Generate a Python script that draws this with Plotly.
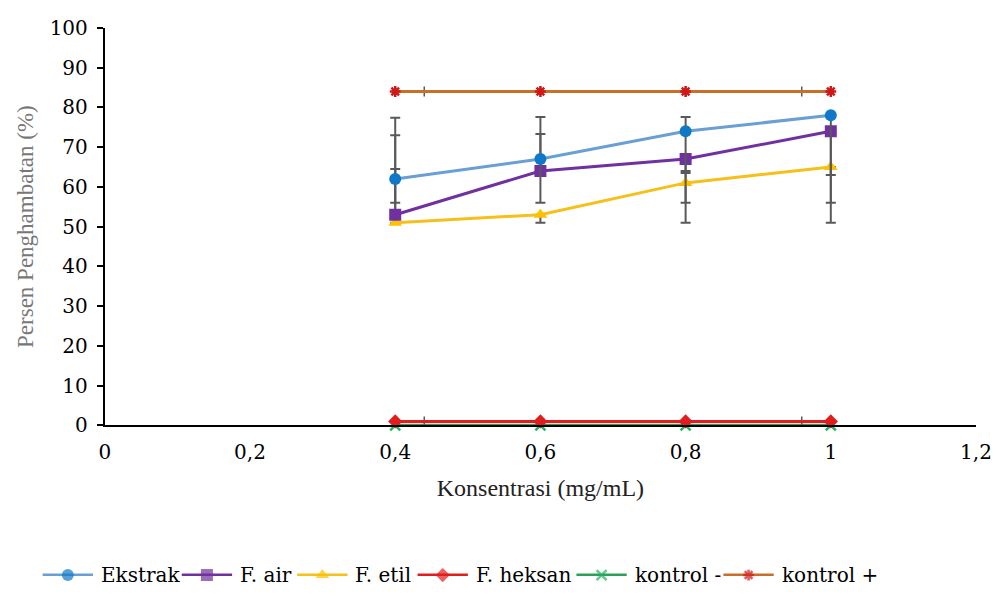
import plotly.graph_objects as go

# ---------------- data ----------------
x_conc = [0.4, 0.6, 0.8, 1.0]

ekstrak = [62, 67, 74, 78]
f_air = [53, 64, 67, 74]
f_etil = [51, 53, 61, 65]
f_heksan = [1, 1, 1, 1]
kontrol_neg = [0, 0, 0, 0]
kontrol_pos = [84, 84, 84, 84]

# error bars (plus / minus)
ekstrak_err_plus = [15.4, 10.6, 3.6, 0]
ekstrak_err_minus = [6, 11, 18, 15]
f_air_err_plus = [20, 9.3, 0, 0]
f_air_err_minus = [0, 0, 3, 18]
f_etil_err_plus = [13.5, 0, 2.5, 0]
f_etil_err_minus = [0, 2, 10, 14]

# small horizontal error caps on the control lines
ctrl_errx_plus = [0.04, 0, 0, 0]
ctrl_errx_minus = [0, 0, 0, 0.04]

x_tickvals = [0, 0.2, 0.4, 0.6, 0.8, 1.0, 1.2]
x_ticktext = ["0", "0,2", "0,4", "0,6", "0,8", "1", "1,2"]

series_names = ["Ekstrak", "F. air", "F. etil", "F. heksan", "kontrol -", "kontrol +"]

# ---------------- styles ----------------
W, H = 1004, 600
ML, MR, MT, MB = 12, 21, 16, 16
PLOT_L, PLOT_R, PLOT_T, PLOT_B = 100, 983, 20, 429   # plot area in px
PAPER_W = W - ML - MR
PAPER_H = H - MT - MB
PAPER_BOTTOM = H - MB
ERR_COLOR = "#595959"
TITLE_FONT = "Times New Roman"
TEXT_FONT = "DejaVu Serif"
TICK_FS = 20
LEG_FS = 20
TITLE_FS = 24

styles = {
    "Ekstrak":   dict(line="#6A9FD4", mcolor="#0F78C8", symbol="circle", size=12, mline=0),
    "F. air":    dict(line="#7030A0", mcolor="#7030A0", symbol="square", size=12, mline=0),
    "F. etil":   dict(line="#F5C01A", mcolor="#FFC000", symbol="triangle-up", size=12, mline=0),
    "F. heksan": dict(line="#E01E1E", mcolor="#E01E1E", symbol="diamond", size=11, mline=0),
    "kontrol -": dict(line="#2E9E5B", mcolor="#22B35E", symbol="x-thin", size=10, mline=2.5),
    "kontrol +": dict(line="#C8702A", mcolor="#D01818", symbol="asterisk", size=9, mline=2.5),
}

# legend layout (px)
LEG_LINE_START = [37, 178, 295, 417, 578, 727]
LEG_LINE_LEN = 51
LEG_TEXT_GAP = 6
LEG_Y_PX = 583
LEG_DOMAIN_TOP = 0.12

fig = go.Figure()

def yerr(plus, minus):
    return dict(type="data", symmetric=False, array=plus, arrayminus=minus,
                color=ERR_COLOR, thickness=2, width=5)

def xerr(plus, minus):
    return dict(type="data", symmetric=False, array=plus, arrayminus=minus,
                color=ERR_COLOR, thickness=1.5, width=5)

def marker_of(name):
    s = styles[name]
    m = dict(symbol=s["symbol"], size=s["size"], color=s["mcolor"])
    if s["mline"]:
        m["line"] = dict(color=s["mcolor"], width=s["mline"])
    return m

data_map = {
    "Ekstrak": (ekstrak, yerr(ekstrak_err_plus, ekstrak_err_minus), None),
    "F. air": (f_air, yerr(f_air_err_plus, f_air_err_minus), None),
    "F. etil": (f_etil, yerr(f_etil_err_plus, f_etil_err_minus), None),
    "F. heksan": (f_heksan, None, xerr(ctrl_errx_plus, ctrl_errx_minus)),
    "kontrol -": (kontrol_neg, None, None),
    "kontrol +": (kontrol_pos, None, xerr(ctrl_errx_plus, ctrl_errx_minus)),
}
draw_order = ["kontrol -", "F. heksan", "kontrol +", "F. etil", "F. air", "Ekstrak"]

for name in draw_order:
    yv, ey, ex = data_map[name]
    tr = go.Scatter(x=x_conc, y=yv, name=name, mode="lines+markers",
                    line=dict(color=styles[name]["line"], width=3),
                    marker=marker_of(name), showlegend=False,
                    cliponaxis=name not in ("kontrol -", "F. heksan"),
                    xaxis="x", yaxis="y")
    if ey is not None:
        tr.error_y = ey
    if ex is not None:
        tr.error_x = ex
    fig.add_trace(tr)

# ---------------- custom legend (second invisible axis in px units) ----------------
leg_y = (PAPER_BOTTOM - LEG_Y_PX) / (LEG_DOMAIN_TOP * PAPER_H)
annotations = []
for name, x0 in zip(series_names, LEG_LINE_START):
    s = styles[name]
    xm = x0 + LEG_LINE_LEN / 2
    x1 = x0 + LEG_LINE_LEN
    fig.add_trace(go.Scatter(
        x=[x0, xm, x1], y=[leg_y] * 3, mode="lines+markers", showlegend=False,
        hoverinfo="skip", cliponaxis=False,
        line=dict(color=s["line"], width=3),
        marker=dict(symbol=s["symbol"], size=[0, s["size"], 0], color=s["mcolor"],
                    line=dict(color=s["mcolor"], width=s["mline"])),
        xaxis="x2", yaxis="y2"))
    annotations.append(dict(x=x1 + LEG_TEXT_GAP, y=leg_y, xref="x2", yref="y2",
                            text=name, showarrow=False, xanchor="left", yanchor="middle",
                            font=dict(family=TEXT_FONT, size=LEG_FS, color="#000")))

fig.update_layout(
    template="none",
    width=W, height=H,
    paper_bgcolor="white", plot_bgcolor="rgba(0,0,0,0)",
    margin=dict(l=ML, r=MR, t=MT, b=MB, pad=0),
    font=dict(family=TEXT_FONT, size=TICK_FS, color="#000000"),
    showlegend=False,
    annotations=annotations,
    xaxis=dict(domain=[(PLOT_L - ML) / PAPER_W, (PLOT_R - ML) / PAPER_W], anchor="y",
               range=[0, 1.2], tickvals=x_tickvals, ticktext=x_ticktext,
               showgrid=False, zeroline=False, showline=True, linecolor="#000",
               linewidth=2, ticks="", ticklabeloverflow="allow", automargin=True,
               ticklabelstandoff=8,
               tickfont=dict(family=TEXT_FONT, size=TICK_FS, color="#000"),
               title=dict(text="Konsentrasi (mg/mL)", standoff=16,
                          font=dict(family=TITLE_FONT, size=TITLE_FS, color="#222"))),
    yaxis=dict(domain=[(PAPER_BOTTOM - PLOT_B) / PAPER_H, (PAPER_BOTTOM - PLOT_T) / PAPER_H],
               anchor="x",
               range=[0, 100], dtick=10, showgrid=False, zeroline=False,
               showline=True, linecolor="#000", linewidth=2, ticks="outside",
               ticklen=6, tickwidth=2, tickcolor="#000", ticklabeloverflow="allow",
               automargin=True, ticklabelstandoff=5,
               tickfont=dict(family=TEXT_FONT, size=TICK_FS, color="#000"),
               title=dict(text="Persen Penghambatan (%)", standoff=10,
                          font=dict(family=TITLE_FONT, size=TITLE_FS - 1, color="#777"))),
    xaxis2=dict(domain=[0, 1], anchor="y2", range=[ML, W - MR], visible=False,
                fixedrange=True),
    yaxis2=dict(domain=[0, LEG_DOMAIN_TOP], anchor="x2", range=[0, 1], visible=False,
                fixedrange=True),
)

fig.write_html("out.html", config={"displayModeBar": False},
               post_script="document.body.style.margin='0px';")
